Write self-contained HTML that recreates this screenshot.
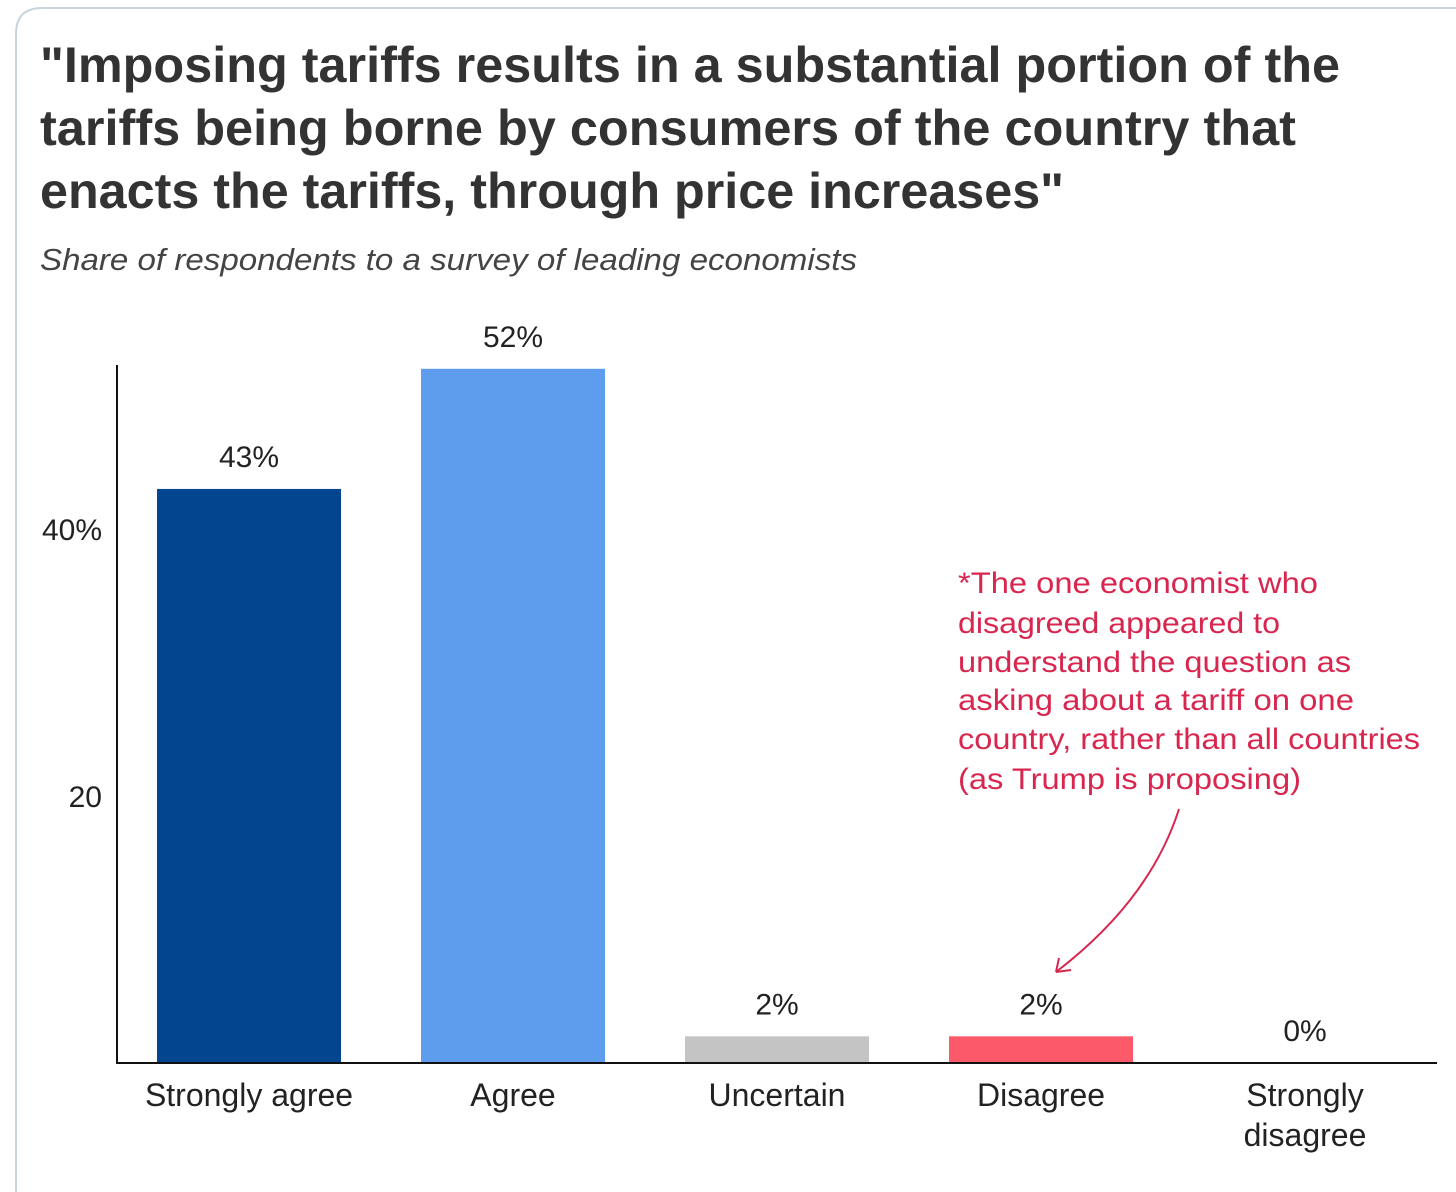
<!DOCTYPE html>
<html><head><meta charset="utf-8"><style>
body{margin:0;background:#fff;width:1456px;height:1192px;overflow:hidden}
svg{display:block;font-family:"Liberation Sans",sans-serif}
</style></head><body>
<svg width="1456" height="1192" viewBox="0 0 1456 1192">
<path d="M16,1192 V34 Q16,8 42,8 H1456" fill="none" stroke="#c9d5dd" stroke-width="2"/>
<g fill="#333" font-weight="bold" font-size="50">
<text x="40" y="82" textLength="1300" lengthAdjust="spacingAndGlyphs">"Imposing tariffs results in a substantial portion of the</text>
<text x="40" y="145" textLength="1256" lengthAdjust="spacingAndGlyphs">tariffs being borne by consumers of the country that</text>
<text x="40" y="208" textLength="1024" lengthAdjust="spacingAndGlyphs">enacts the tariffs, through price increases"</text>
</g>
<text x="40" y="270" font-size="31" font-style="italic" fill="#444" textLength="817" lengthAdjust="spacingAndGlyphs">Share of respondents to a survey of leading economists</text>
<g id="plot"></g>
<g fill="#d8264f" font-size="30">
<text x="958" y="593" textLength="360" lengthAdjust="spacingAndGlyphs">*The one economist who</text>
<text x="958" y="633" textLength="322" lengthAdjust="spacingAndGlyphs">disagreed appeared to</text>
<text x="958" y="672" textLength="393" lengthAdjust="spacingAndGlyphs">understand the question as</text>
<text x="958" y="710" textLength="396" lengthAdjust="spacingAndGlyphs">asking about a tariff on one</text>
<text x="958" y="749" textLength="462" lengthAdjust="spacingAndGlyphs">country, rather than all countries</text>
<text x="958" y="789" textLength="343" lengthAdjust="spacingAndGlyphs">(as Trump is proposing)</text>
</g>
<path d="M1179,809 Q1150,900 1056,972 M1056,972 L1059,958 M1056,972 L1071,970" fill="none" stroke="#d8264f" stroke-width="2"/>
</svg>
<script>
const categories=["Strongly agree","Agree","Uncertain","Disagree","Strongly disagree"];
const values=[43,52,2,2,0];
const valueLabels=["43%","52%","2%","2%","0%"];
const colors=["#03468f","#5e9ced","#c4c4c4","#fc5a6a","#cccccc"];
const yTicks=[20,40];
const yTickLabels=["20","40%"];
const NS="http://www.w3.org/2000/svg";
const g=document.getElementById('plot');
const y0=1063,pxPerUnit=13.35,x0=117,xEnd=1437,step=264,bw=184,first=157;
const y=v=>y0-v*pxPerUnit;
const xc=i=>first+bw/2+i*step;
function mk(t,a){const e=document.createElementNS(NS,t);for(const k in a)e.setAttribute(k,a[k]);g.appendChild(e);return e;}
yTicks.forEach((t,i)=>{
 const e=mk('text',{x:102,y:y(t)+11,'text-anchor':'end','font-size':'30',fill:'#222'});
 e.textContent=yTickLabels[i];
 
 
});
values.forEach((v,i)=>{
 if(v>0){
 const r=mk('rect',{x:xc(i)-bw/2,y:y(v),width:bw,height:v*pxPerUnit,fill:colors[i]});
 
 
 }
 const l=mk('text',{x:xc(i),y:y(v)-22,'text-anchor':'middle','font-size':'30',fill:'#222'});
 l.textContent=valueLabels[i];
 
 
 const words=categories[i]==="Strongly disagree"?["Strongly","disagree"]:[categories[i]];
 words.forEach((w,j)=>{
  const c=mk('text',{x:xc(i),y:1106+j*40,'text-anchor':'middle','font-size':'32',fill:'#222'});
  c.textContent=w;
  
  
 });
});
const ax=mk('line',{x1:x0,y1:365,x2:x0,y2:y0+1,stroke:'#111','stroke-width':2});


const bx=mk('line',{x1:x0,y1:y0,x2:xEnd,y2:y0,stroke:'#111','stroke-width':2});


</script>
</body></html>
